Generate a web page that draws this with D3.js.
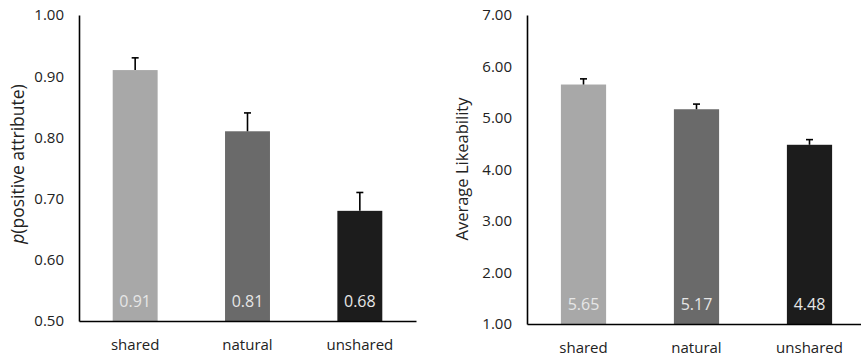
<!DOCTYPE html>
<html>
<head>
<meta charset="utf-8">
<script src="https://cdn.jsdelivr.net/npm/d3@7"></script>
<style>
  body { margin: 0; background: #fff; }
  svg { display: block; font-family: "Open Sans", "Noto Sans", sans-serif; }
</style>
</head>
<body>
<svg id="chart" width="861" height="359"></svg>
<script>
// condições
const categories = ["shared", "natural", "unshared"];
const barColors = ["#a8a8a8", "#6a6a6a", "#1c1c1c"];

// painel esquerdo: p(positive attribute)
const attrValues = [0.91, 0.81, 0.68];
const attrErrors = [0.02, 0.03, 0.03];
const attrTicks = [0.5, 0.6, 0.7, 0.8, 0.9, 1.0];

// painel direito: Average Likeability
const likeValues = [5.65, 5.17, 4.48];
const likeErrors = [0.11, 0.10, 0.10];
const likeTicks = [1, 2, 3, 4, 5, 6, 7];

const svg = d3.select("#chart");

function drawPanel(opts) {
  const g = svg.append("g");

  const x = d3.scaleBand()
    .domain(categories)
    .range([opts.left, opts.right])
    .paddingInner(0.6)
    .paddingOuter(0.3);

  const y = d3.scaleLinear()
    .domain(opts.domain)
    .range([opts.bottom, opts.top]);

  const data = categories.map((c, i) => ({
    cat: c, value: opts.values[i], err: opts.errors[i], color: barColors[i]
  }));

  // barras
  g.selectAll("rect")
    .data(data)
    .enter()
    .append("rect")
    .attr("x", d => x(d.cat))
    .attr("y", d => y(d.value))
    .attr("width", x.bandwidth())
    .attr("height", d => y(opts.domain[0]) - y(d.value))
    .attr("fill", d => d.color);

  // barras de erro (só para cima)
  const eb = g.append("g")
    .attr("stroke", "#000")
    .attr("stroke-width", 1.6);

  data.forEach(d => {
    const cx = x(d.cat) + x.bandwidth() / 2;
    eb.append("line")
      .attr("x1", cx).attr("x2", cx)
      .attr("y1", y(d.value)).attr("y2", y(d.value + d.err));
    eb.append("line")
      .attr("x1", cx - 3.5).attr("x2", cx + 3.5)
      .attr("y1", y(d.value + d.err)).attr("y2", y(d.value + d.err));
  });

  // rótulos dentro das barras
  g.selectAll("text.val")
    .data(data)
    .enter()
    .append("text")
    .attr("class", "val")
    .attr("x", d => x(d.cat) + x.bandwidth() / 2)
    .attr("y", opts.bottom - 18)
    .attr("text-anchor", "middle")
    .attr("dominant-baseline", "middle")
    .attr("fill", "#e6e6e6")
    .style("font-size", "16px")
    .text(d => opts.fmt(d.value));

  // eixo Y
  const yAxis = g.append("g")
    .attr("transform", `translate(${opts.left},0)`)
    .call(
      d3.axisLeft(y)
        .tickValues(opts.ticks)
        .tickSize(0)
        .tickPadding(15)
        .tickFormat(d3.format(".2f"))
    );
  yAxis.select(".domain").attr("stroke", "#000").attr("stroke-width", 1.6);
  yAxis.selectAll("text")
    .attr("fill", "#222")
    .style("font-size", "15px")
    .style("font-family", "'Open Sans', sans-serif");

  // eixo X
  const xAxis = g.append("g")
    .attr("transform", `translate(0,${opts.bottom})`)
    .call(d3.axisBottom(x).tickSize(0).tickPadding(18));
  xAxis.select(".domain").attr("stroke", "#000").attr("stroke-width", 1.6);
  xAxis.selectAll("text")
    .attr("fill", "#222")
    .style("font-size", "15px")
    .style("font-family", "'Open Sans', sans-serif");

  // título do eixo Y
  const title = g.append("text")
    .attr("transform", `translate(${opts.titleX},${opts.titleY}) rotate(-90)`)
    .attr("text-anchor", "middle")
    .attr("dominant-baseline", "middle")
    .attr("fill", "#222")
    .style("font-size", opts.titleSize);
  opts.title(title);
}

drawPanel({
  left: 79, right: 416, top: 15, bottom: 321,
  domain: [0.5, 1.0],
  values: attrValues, errors: attrErrors, ticks: attrTicks,
  fmt: d3.format(".2f"),
  titleX: 19, titleY: 164, titleSize: "17.5px",
  title: t => {
    t.append("tspan").style("font-style", "italic").text("p");
    t.append("tspan").text("(positive attribute)");
  }
});

drawPanel({
  left: 527, right: 866, top: 15, bottom: 324,
  domain: [1, 7],
  values: likeValues, errors: likeErrors, ticks: likeTicks,
  fmt: d3.format(".2f"),
  titleX: 464, titleY: 169, titleSize: "16.5px",
  title: t => t.text("Average Likeability")
});
</script>
</body>
</html>
